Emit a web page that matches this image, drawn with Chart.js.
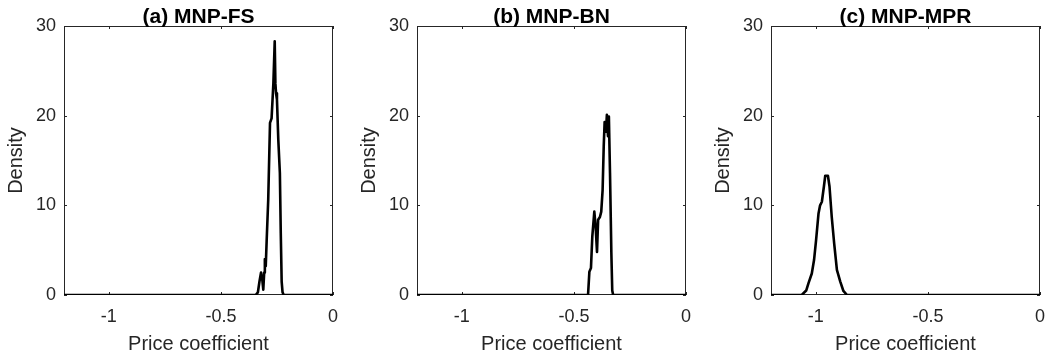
<!DOCTYPE html>
<html>
<head>
<meta charset="utf-8">
<script src="https://cdn.jsdelivr.net/npm/chart.js@4/dist/chart.umd.min.js"></script>
<style>
  html, body { margin: 0; padding: 0; background: #fff; }
  #wrap { position: relative; width: 1046px; height: 360px; background: #fff; overflow: hidden; }
  canvas { position: absolute; top: 0; }
</style>
</head>
<body>
<div id="wrap">
  <canvas id="ca" width="350" height="360" style="left:0px;width:350px;height:360px"></canvas>
  <canvas id="cb" width="350" height="360" style="left:353px;width:350px;height:360px"></canvas>
  <canvas id="cc" width="350" height="360" style="left:707px;width:350px;height:360px"></canvas>
</div>
<script>
// ---- Data ----
const panelTitles = ["(a) MNP-FS", "(b) MNP-BN", "(c) MNP-MPR"];
const xAxisLabel = "Price coefficient";
const yAxisLabel = "Density";
const xTicks = [-1, -0.5, 0];
const xTickLabels = ["-1", "-0.5", "0"];
const yTicks = [0, 10, 20, 30];
const yTickLabels = ["0", "10", "20", "30"];
const xMin = -1.2, xMax = 0, yMin = 0, yMax = 30;

// (a) MNP-FS
const fsX = [-1.2, -0.345, -0.335, -0.328, -0.321, -0.315, -0.311, -0.307, -0.304, -0.300, -0.296, -0.289, -0.281, -0.274, -0.266, -0.260, -0.257, -0.254, -0.250, -0.244, -0.237, -0.233, -0.229, -0.225, -0.220, 0];
const fsY = [0, 0, 0.3, 1.5, 2.5, 1.6, 0.6, 2.5, 4.0, 3.2, 6.0, 10.6, 19.2, 19.7, 23.6, 28.3, 23.6, 22.5, 21.8, 17.3, 13.6, 6.9, 1.5, 0.3, 0, 0];

// (b) MNP-BN
const bnX = [-1.2, -0.437, -0.431, -0.424, -0.418, -0.409, -0.403, -0.397, -0.392, -0.384, -0.378, -0.372, -0.367, -0.363, -0.357, -0.353, -0.348, -0.344, -0.339, -0.333, -0.329, -0.325, 0];
const bnY = [0, 0, 2.6, 3.0, 6.5, 9.3, 7.6, 4.8, 8.4, 8.7, 9.3, 11.7, 16.6, 19.3, 18.2, 20.1, 17.7, 19.9, 13.6, 4.7, 0.5, 0, 0];

// (c) MNP-MPR
const mprX = [-1.2, -1.063, -1.043, -1.033, -1.018, -1.008, -0.999, -0.988, -0.981, -0.973, -0.964, -0.958, -0.946, -0.939, -0.929, -0.918, -0.906, -0.891, -0.877, -0.861, 0];
const mprY = [0, 0, 0.5, 1.3, 2.4, 3.9, 6.1, 9.1, 10.0, 10.4, 12.1, 13.3, 13.3, 12.1, 8.7, 5.7, 2.8, 1.5, 0.45, 0, 0];

// ---- Styling / layout ----
const FONT = "'Liberation Sans', Arial, Helvetica, sans-serif";
const AXIS_COLOR = "#262626";

const framePlugin = {
  id: "frame",
  beforeDatasetsDraw(chart) {
    const { ctx, chartArea: a, scales } = chart;
    ctx.save();
    ctx.strokeStyle = AXIS_COLOR;
    ctx.lineWidth = 1;
    ctx.strokeRect(a.left + 0.5, a.top + 0.5, a.right - a.left - 1, a.bottom - a.top - 1);
    const tl = 3;
    ctx.beginPath();
    xTicks.forEach(v => {
      const px = Math.round(scales.x.getPixelForValue(v)) + 0.5;
      ctx.moveTo(px, a.bottom); ctx.lineTo(px, a.bottom - tl);
      ctx.moveTo(px, a.top); ctx.lineTo(px, a.top + tl);
    });
    yTicks.forEach(v => {
      const py = Math.round(scales.y.getPixelForValue(v)) + 0.5;
      ctx.moveTo(a.left, py); ctx.lineTo(a.left + tl, py);
      ctx.moveTo(a.right, py); ctx.lineTo(a.right - tl, py);
    });
    ctx.stroke();
    ctx.restore();
  },
  afterDraw(chart, args, opts) {
    const { ctx, chartArea: a } = chart;
    ctx.save();
    ctx.fillStyle = "#000";
    ctx.font = "bold 21px " + FONT;
    ctx.textAlign = "center";
    ctx.textBaseline = "alphabetic";
    ctx.fillText(opts.text, (a.left + a.right) / 2, 23);
    ctx.restore();
  }
};

function makeChart(id, title, xs, ys, rightPad) {
  const pts = xs.map((x, i) => ({ x: x, y: ys[i] }));
  return new Chart(document.getElementById(id), {
    type: "line",
    data: {
      datasets: [{
        data: pts,
        borderColor: "#000",
        borderWidth: 2.6,
        pointRadius: 0,
        tension: 0,
        fill: false,
        borderJoinStyle: "round",
        borderCapStyle: "round"
      }]
    },
    options: {
      responsive: false,
      animation: false,
      devicePixelRatio: 1,
      layout: { padding: { top: 26, right: rightPad, bottom: 0, left: 0 } },
      plugins: {
        legend: { display: false },
        tooltip: { enabled: false },
        title: { display: false },
        frame: { text: title }
      },
      scales: {
        x: {
          type: "linear",
          min: xMin, max: xMax,
          grid: { display: false, drawTicks: false },
          border: { display: false },
          afterBuildTicks: s => { s.ticks = xTicks.map(v => ({ value: v })); },
          afterFit: s => { s.height = 65; },
          ticks: {
            autoSkip: false, maxRotation: 0, padding: 11,
            color: AXIS_COLOR,
            font: { family: FONT, size: 18 },
            callback: v => { const i = xTicks.indexOf(v); return i >= 0 ? xTickLabels[i] : ""; }
          },
          title: {
            display: true, text: xAxisLabel, color: AXIS_COLOR,
            font: { family: FONT, size: 20 },
            padding: { top: 0, bottom: 4 }
          }
        },
        y: {
          type: "linear",
          min: yMin, max: yMax,
          grid: { display: false, drawTicks: false },
          border: { display: false },
          afterBuildTicks: s => { s.ticks = yTicks.map(v => ({ value: v })); },
          afterFit: s => { s.width = 64; },
          ticks: {
            autoSkip: false, padding: 8,
            color: AXIS_COLOR,
            font: { family: FONT, size: 18 },
            callback: v => { const i = yTicks.indexOf(v); return i >= 0 ? yTickLabels[i] : ""; }
          },
          title: {
            display: true, text: yAxisLabel, color: AXIS_COLOR,
            font: { family: FONT, size: 20 },
            padding: { top: 4, bottom: 0 }
          }
        }
      }
    },
    plugins: [framePlugin]
  });
}

makeChart("ca", panelTitles[0], fsX, fsY, 17);
makeChart("cb", panelTitles[1], bnX, bnY, 17);
makeChart("cc", panelTitles[2], mprX, mprY, 17);
</script>
</body>
</html>
